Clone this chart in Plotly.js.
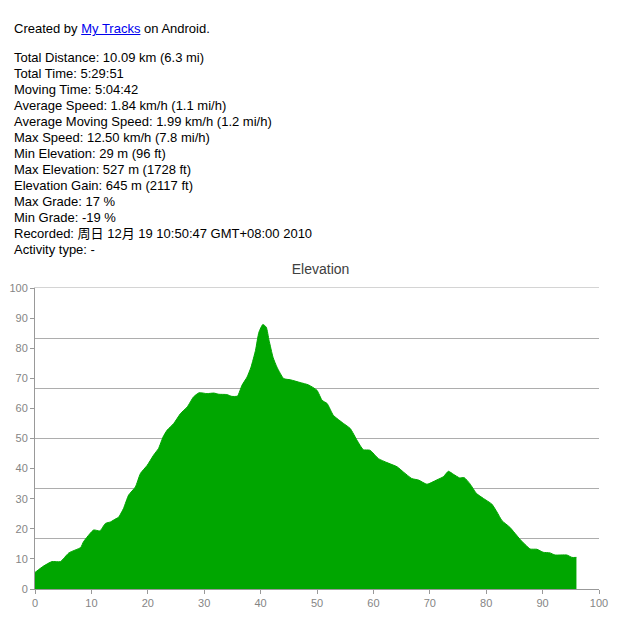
<!DOCTYPE html>
<html>
<head>
<meta charset="utf-8">
<script src="https://cdn.plot.ly/plotly-3.0.1.min.js"></script>
<style>
  html, body { margin: 0; padding: 0; background: #fff; }
  #wrap { position: relative; width: 623px; height: 641px; }
  #chart { position: absolute; left: 0; top: 0; width: 623px; height: 641px; }
  #info { position: absolute; left: 14px; top: 21px; z-index: 5;
          font-family: Arial, "Liberation Sans", "Noto Sans CJK SC", sans-serif;
          font-size: 13px; line-height: 16px; color: #000; }
  #info p { margin: 0; }
  #info .gap { margin-bottom: 13px; }
  #info a { color: #0000ee; text-decoration: underline; }
</style>
</head>
<body>
<div id="wrap">
  <div id="chart"></div>
  <div id="info">
    <p class="gap">Created by <a href="#">My Tracks</a> on Android.</p>
    <p>Total Distance: 10.09 km (6.3 mi)</p>
    <p>Total Time: 5:29:51</p>
    <p>Moving Time: 5:04:42</p>
    <p>Average Speed: 1.84 km/h (1.1 mi/h)</p>
    <p>Average Moving Speed: 1.99 km/h (1.2 mi/h)</p>
    <p>Max Speed: 12.50 km/h (7.8 mi/h)</p>
    <p>Min Elevation: 29 m (96 ft)</p>
    <p>Max Elevation: 527 m (1728 ft)</p>
    <p>Elevation Gain: 645 m (2117 ft)</p>
    <p>Max Grade: 17 %</p>
    <p>Min Grade: -19 %</p>
    <p>Recorded: 周日 12月 19 10:50:47 GMT+08:00 2010</p>
    <p>Activity type: -</p>
  </div>
</div>
<script>
const distance = [
  0, 1.5, 3.0, 4.5, 6.0, 8.1, 8.6, 10.4, 11.5, 12.5,
  13.4, 14.3, 14.8, 15.7, 16.6, 17.8, 18.7, 19.9, 21.0, 21.9,
  22.7, 23.4, 24.6, 25.8, 27.0, 28.1, 29.1, 30.5, 31.7, 32.6,
  34.0, 34.9, 35.9, 36.7, 37.6, 38.3, 39.1, 39.7, 40.4, 41.0,
  41.5, 42.2, 42.9, 44.1, 45.3, 47.0, 48.5, 50.0, 50.9, 51.8,
  52.9, 54.7, 55.9, 57.1, 58.2, 59.4, 60.9, 62.4, 64.2, 65.3,
  66.8, 68.0, 69.5, 71.2, 72.4, 73.3, 74.2, 75.3, 76.1, 77.1,
  78.3, 79.5, 81.0, 81.9, 82.8, 84.2, 86.0, 87.8, 89.0, 90.1,
  91.3, 92.2, 94.3, 95.2, 96.0
];
const elevation = [
  5.5, 7.6, 9.1, 9.1, 12.0, 13.8, 15.7, 19.6, 19.3, 21.8,
  22.3, 23.3, 23.8, 26.8, 31.2, 33.9, 38.4, 41.1, 44.4, 46.7,
  50.5, 52.7, 55.0, 58.3, 60.5, 63.8, 65.2, 64.9, 65.1, 64.7,
  64.6, 64.0, 64.1, 67.7, 70.4, 73.7, 79.3, 85.3, 87.9, 87.0,
  82.6, 77.0, 73.7, 69.9, 69.5, 68.6, 67.8, 66.0, 62.7, 61.6,
  57.7, 55.0, 53.3, 49.4, 46.3, 46.1, 43.3, 42.0, 40.6, 38.9,
  36.7, 36.2, 34.8, 36.2, 37.3, 39.1, 38.1, 36.9, 37.0, 35.0,
  31.7, 30.1, 28.2, 25.6, 22.7, 20.5, 16.5, 13.3, 13.2, 12.2,
  12.0, 11.3, 11.3, 10.5, 10.5
];
const tickValues = [0, 10, 20, 30, 40, 50, 60, 70, 80, 90, 100];
const gridValues = [100/6, 200/6, 300/6, 400/6, 500/6];

const tickFont = {family: 'Arial, "Liberation Sans", sans-serif', size: 11, color: '#858585'};

const traces = [
  { // invisible copy on the overlay axes so that the gridlines and the top border are drawn
    x: distance, y: elevation, xaxis: 'x2', yaxis: 'y2', type: 'scatter', mode: 'lines',
    line: {color: 'rgba(0,0,0,0)', width: 0}, hoverinfo: 'skip', showlegend: false
  },
  {
    x: distance, y: elevation, type: 'scatter', mode: 'lines',
    line: {color: '#00a600', width: 1, shape: 'spline', smoothing: 0.5},
    fill: 'tozeroy', fillcolor: '#00a600', hoverinfo: 'skip', showlegend: false
  }
];

const layout = {
  width: 623, height: 641,
  margin: {l: 35, r: 24, t: 288, b: 52, pad: 0},
  paper_bgcolor: 'rgba(0,0,0,0)', plot_bgcolor: 'rgba(0,0,0,0)',
  showlegend: false,
  title: {text: 'Elevation', x: 0.5145, xref: 'container', xanchor: 'center',
          y: 1 - 269/641, yref: 'container', yanchor: 'middle',
          font: {family: 'Arial, "Liberation Sans", sans-serif', size: 14, color: '#404040'}},
  xaxis: {range: [0, 100], tickvals: tickValues, ticks: 'outside', ticklen: 4, tickcolor: '#999',
          showline: true, linecolor: '#999', linewidth: 1, showgrid: false, zeroline: false,
          tickfont: tickFont, fixedrange: true},
  xaxis2: {overlaying: 'x', anchor: 'y2', side: 'top', range: [0, 100], showline: true, linecolor: '#d4d4d4',
           showticklabels: false, ticks: '', showgrid: false, zeroline: false},
  yaxis: {range: [0, 100], tickvals: tickValues, ticks: 'outside', ticklen: 4, tickcolor: '#999',
          showline: true, linecolor: '#999', linewidth: 1, showgrid: false, zeroline: false,
          tickfont: tickFont, fixedrange: true},
  yaxis2: {overlaying: 'y', anchor: 'x2', range: [0, 100], tickvals: gridValues, showticklabels: false, ticks: '',
           showgrid: true, gridcolor: '#adadad', gridwidth: 1, zeroline: false, showline: false},
};

Plotly.newPlot('chart', traces, layout, {staticPlot: true, displayModeBar: false});
</script>
</body>
</html>
